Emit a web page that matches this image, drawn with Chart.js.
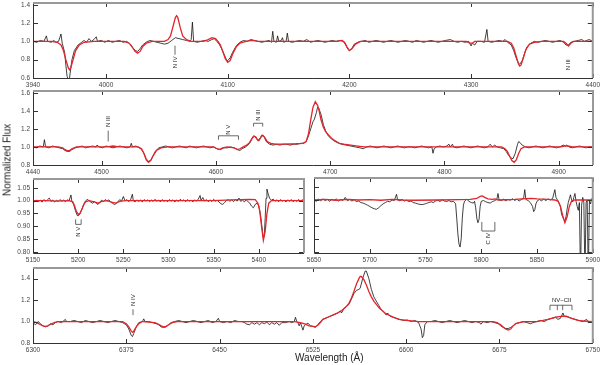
<!DOCTYPE html>
<html>
<head>
<meta charset="utf-8">
<script src="https://cdn.jsdelivr.net/npm/chart.js@4.4.1/dist/chart.umd.min.js"></script>
<style>
  body { margin: 0; background: #fff; width: 600px; height: 365px; position: relative; overflow: hidden; font-family: "Liberation Sans", Arial, sans-serif; }
  canvas { position: absolute; }
  .ttl { position: absolute; font-size: 10px; color: #222; white-space: nowrap; }
</style>
</head>
<body>
<canvas id="p1"></canvas>
<canvas id="p2"></canvas>
<canvas id="p3"></canvas>
<canvas id="p4"></canvas>
<canvas id="p5"></canvas>
<div class="ttl" style="left:295px; top:352px;">Wavelength (&Aring;)</div>
<div class="ttl" style="left:7px; top:160px; transform: translate(-50%,-50%) rotate(-90deg);">Normalized Flux</div>
<script>
// ---- panel 1 : 3940-4400 A ----
const p1XTicks = [3940, 4000, 4100, 4200, 4300, 4400];
const p1YTicks = [0.6, 0.8, 1.0, 1.2, 1.4];
const p1Observed = [
  [3940,1.00],[3943,0.99],[3946,1.01],[3949,1.00],[3951,1.06],[3952,1.00],[3955,0.99],[3957,1.01],[3959,0.99],[3961,1.00],
  [3963,1.08],[3964,0.98],[3966,0.88],[3967,0.74],[3968,0.62],[3969,0.58],[3970,0.60],[3971,0.70],[3972,0.80],[3974,0.90],
  [3977,0.96],[3980,0.99],[3982,1.01],[3984,0.99],[3986,1.03],[3988,1.00],[3990,1.02],[3992,1.05],[3993,1.00],[3996,1.01],
  [3999,0.99],[4002,1.01],[4005,0.99],[4008,1.00],[4011,1.01],[4014,0.99],[4017,1.00],[4020,0.97],[4022,0.93],[4024,0.90],
  [4026,0.89],[4028,0.92],[4030,0.96],[4033,0.99],[4036,1.01],[4039,1.00],[4042,0.99],[4045,0.98],[4048,0.97],[4051,0.98],
  [4054,1.01],[4057,1.04],[4060,1.03],[4063,1.02],[4066,1.01],[4069,1.00],[4070,1.02],[4071,1.21],[4072,1.00],[4075,0.99],
  [4078,1.00],[4081,1.01],[4084,1.00],[4087,1.02],[4089,1.03],[4091,1.00],[4093,0.97],[4095,0.92],[4097,0.86],[4099,0.80],
  [4100,0.79],[4102,0.82],[4104,0.88],[4107,0.95],[4110,0.99],[4113,1.01],[4116,1.00],[4119,1.02],[4122,1.01],[4125,1.00],
  [4128,0.99],[4131,1.00],[4134,1.01],[4136,0.99],[4137,1.11],[4138,1.00],[4140,0.99],[4141,1.06],[4142,1.00],[4144,1.01],
  [4145,1.04],[4146,0.99],[4148,1.00],[4149,1.09],[4150,1.00],[4153,0.99],[4156,1.00],[4159,1.01],[4162,1.00],[4165,1.02],
  [4168,0.99],[4171,1.00],[4174,1.01],[4177,1.00],[4180,0.99],[4183,1.00],[4186,1.01],[4189,1.00],[4192,1.01],[4195,1.00],
  [4197,0.96],[4199,0.91],[4200,0.90],[4202,0.92],[4204,0.97],[4207,0.99],[4210,1.00],[4213,1.01],[4216,0.99],[4219,1.00],
  [4222,1.01],[4225,1.00],[4228,0.99],[4231,1.00],[4234,1.01],[4237,1.00],[4240,0.99],[4243,1.00],[4246,1.01],[4249,1.00],
  [4252,0.99],[4255,1.01],[4258,1.00],[4261,0.99],[4264,1.00],[4267,1.01],[4270,1.00],[4273,0.99],[4276,1.00],[4279,1.01],
  [4283,1.02],[4286,1.00],[4289,0.99],[4292,1.00],[4295,0.99],[4298,1.00],[4300,0.95],[4301,0.98],[4303,0.96],[4305,1.00],
  [4308,1.00],[4311,0.99],[4313,1.13],[4314,1.00],[4317,0.99],[4320,1.00],[4323,1.01],[4326,1.00],[4328,1.02],[4330,0.99],
  [4333,0.96],[4335,0.90],[4337,0.82],[4339,0.76],[4340,0.75],[4342,0.79],[4344,0.87],[4346,0.94],[4349,0.98],[4352,1.00],
  [4355,0.99],[4358,1.00],[4361,1.01],[4364,1.00],[4367,0.99],[4370,1.00],[4373,1.01],[4376,0.99],[4378,0.96],[4380,0.96],
  [4382,0.99],[4385,1.00],[4388,1.01],[4391,1.02],[4393,1.00],[4395,1.01],[4397,1.02],[4400,1.00]
];
const p1Model = [
  [3940,1.00],[3955,1.00],[3960,0.99],[3963,0.96],[3965,0.90],[3967,0.80],[3969,0.71],[3970,0.69],[3971,0.71],[3973,0.80],
  [3975,0.90],[3978,0.96],[3982,0.99],[3990,1.00],[4015,1.00],[4019,0.98],[4022,0.93],[4024,0.89],[4026,0.87],[4028,0.89],
  [4030,0.94],[4033,0.98],[4038,1.00],[4048,1.00],[4051,1.02],[4053,1.06],[4055,1.16],[4057,1.26],[4058,1.28],[4059,1.26],
  [4061,1.15],[4063,1.06],[4066,1.02],[4070,1.00],[4080,1.00],[4084,1.02],[4087,1.04],[4090,1.03],[4092,1.00],[4094,0.96],
  [4096,0.89],[4098,0.81],[4100,0.77],[4102,0.79],[4104,0.86],[4107,0.94],[4110,0.98],[4115,1.00],[4120,1.01],[4125,1.00],
  [4190,1.00],[4194,1.01],[4196,0.99],[4198,0.94],[4200,0.90],[4202,0.92],[4205,0.97],[4209,1.00],[4296,1.00],[4299,0.98],
  [4301,0.98],[4303,1.00],[4330,1.00],[4333,0.98],[4335,0.93],[4337,0.84],[4339,0.75],[4340,0.73],[4341,0.74],[4343,0.82],
  [4345,0.91],[4348,0.97],[4352,0.99],[4358,1.00],[4376,1.00],[4378,0.98],[4380,0.95],[4382,0.98],[4384,1.00],[4400,1.00]
];

// ---- panel 2 : 4440-4930 A ----
const p2XTicks = [4440, 4500, 4600, 4700, 4800, 4900];
const p2YTicks = [0.8, 1.0, 1.2, 1.4, 1.6];
const p2Observed = [
  [4440,1.00],[4443,0.99],[4446,1.01],[4449,1.00],[4450,1.08],[4451,1.00],[4454,0.99],[4457,1.01],[4460,1.00],[4463,0.99],
  [4466,0.98],[4468,0.96],[4470,0.95],[4472,0.95],[4474,0.97],[4477,0.99],[4480,1.00],[4483,1.01],[4486,0.99],[4489,1.00],
  [4492,1.01],[4495,1.00],[4496,1.02],[4498,1.00],[4501,0.99],[4504,1.01],[4507,1.00],[4510,0.99],[4513,1.00],[4516,1.01],
  [4519,1.00],[4522,0.99],[4525,1.00],[4526,1.04],[4527,1.00],[4530,1.01],[4533,0.99],[4535,0.97],[4537,0.93],[4539,0.87],
  [4541,0.84],[4543,0.85],[4545,0.90],[4547,0.95],[4550,0.99],[4553,1.00],[4556,1.01],[4559,1.00],[4562,0.99],[4565,1.00],
  [4568,1.01],[4571,1.00],[4574,0.99],[4577,1.01],[4580,1.00],[4583,0.99],[4586,1.00],[4589,1.01],[4592,1.00],[4595,0.99],
  [4598,1.00],[4601,0.98],[4604,0.97],[4607,0.99],[4610,0.99],[4613,1.00],[4616,0.99],[4619,0.97],[4621,0.96],[4623,0.98],
  [4626,1.00],[4628,1.02],[4630,1.05],[4632,1.10],[4634,1.12],[4636,1.08],[4638,1.07],[4640,1.13],[4642,1.12],[4644,1.06],
  [4647,1.03],[4650,1.02],[4653,1.03],[4656,1.02],[4659,1.03],[4662,1.03],[4665,1.02],[4668,1.03],[4671,1.03],[4674,1.04],
  [4677,1.04],[4679,1.06],[4681,1.12],[4683,1.20],[4685,1.28],[4686,1.30],[4688,1.38],[4689,1.44],[4690,1.43],[4692,1.36],
  [4694,1.25],[4696,1.18],[4698,1.13],[4700,1.10],[4703,1.07],[4706,1.05],[4710,1.03],[4714,1.02],[4718,1.01],[4722,1.00],
  [4726,0.99],[4729,0.98],[4732,1.00],[4735,1.01],[4738,1.00],[4741,0.99],[4744,1.00],[4747,1.01],[4750,1.00],[4753,0.99],
  [4756,1.00],[4759,1.01],[4762,1.00],[4765,0.99],[4768,1.00],[4771,1.00],[4774,0.99],[4777,1.00],[4780,1.01],[4783,1.00],
  [4786,0.99],[4789,1.00],[4790,0.93],[4791,0.98],[4793,1.00],[4796,1.01],[4799,1.00],[4802,1.01],[4804,1.03],[4805,1.00],
  [4807,1.03],[4808,1.00],[4811,0.99],[4814,1.00],[4817,1.01],[4820,1.00],[4823,0.99],[4826,1.00],[4829,1.01],[4832,1.00],
  [4835,0.99],[4838,1.00],[4840,1.03],[4842,1.00],[4844,1.02],[4846,1.00],[4849,0.99],[4852,0.98],[4854,0.95],[4856,0.91],
  [4858,0.88],[4860,0.87],[4862,0.93],[4864,1.03],[4865,1.06],[4866,1.05],[4868,1.02],[4871,1.00],[4874,0.99],[4877,1.00],
  [4880,1.01],[4883,1.00],[4886,0.99],[4889,1.00],[4892,1.01],[4895,1.00],[4898,0.99],[4901,1.00],[4904,1.02],[4906,1.01],
  [4907,1.02],[4909,1.00],[4912,0.99],[4915,1.00],[4918,1.01],[4921,1.00],[4924,0.99],[4927,1.00],[4930,1.00]
];
const p2Model = [
  [4440,1.00],[4462,1.00],[4466,0.99],[4468,0.97],[4470,0.96],[4472,0.96],[4474,0.98],[4478,1.00],[4505,1.00],[4510,1.01],
  [4515,1.00],[4532,1.00],[4535,0.98],[4537,0.93],[4539,0.86],[4541,0.83],[4543,0.85],[4545,0.90],[4548,0.96],[4552,0.99],
  [4558,1.00],[4598,1.00],[4601,0.98],[4603,0.97],[4606,0.99],[4610,1.00],[4616,0.99],[4619,0.97],[4621,0.98],[4624,1.00],
  [4627,1.02],[4629,1.04],[4631,1.08],[4633,1.12],[4635,1.11],[4637,1.07],[4639,1.10],[4641,1.13],[4643,1.10],[4645,1.06],
  [4648,1.04],[4652,1.03],[4660,1.03],[4670,1.035],[4676,1.04],[4679,1.06],[4681,1.14],[4683,1.30],[4685,1.44],[4687,1.50],
  [4689,1.46],[4690,1.42],[4692,1.30],[4694,1.22],[4696,1.17],[4698,1.14],[4701,1.10],[4703,1.08],[4708,1.04],[4712,1.03],
  [4718,1.02],[4724,1.01],[4730,1.00],[4850,1.00],[4853,0.98],[4855,0.95],[4857,0.90],[4859,0.85],[4861,0.83],[4863,0.86],
  [4865,0.93],[4867,0.98],[4870,1.00],[4902,1.00],[4905,1.01],[4908,1.01],[4912,1.00],[4930,1.00]
];

// ---- panel 3 : 5150-5450 A ----
const p3XTicks = [5150, 5200, 5250, 5300, 5350, 5400];
const p3YTicks = [0.80, 0.85, 0.90, 0.95, 1.00, 1.05];
const p3Observed = [
  [5150,1.000],[5152,0.995],[5154,1.003],[5156,0.996],[5158,1.002],[5160,0.994],[5162,1.004],[5164,0.998],[5166,1.003],[5168,1.010],
  [5170,0.997],[5172,1.002],[5174,0.995],[5176,1.001],[5178,0.997],[5180,1.004],[5182,0.998],[5184,1.002],[5186,0.996],[5188,1.003],
  [5190,1.000],[5192,1.022],[5193,0.998],[5195,0.985],[5197,0.960],[5199,0.942],[5200,0.940],[5202,0.948],[5204,0.965],[5206,0.985],
  [5208,0.997],[5210,1.005],[5212,1.000],[5214,0.994],[5216,0.990],[5218,0.996],[5220,0.990],[5222,0.985],[5224,0.993],[5226,1.002],
  [5228,0.996],[5230,1.004],[5232,0.998],[5234,1.003],[5236,0.994],[5238,0.990],[5240,0.985],[5242,0.988],[5244,0.996],[5246,1.004],
  [5248,0.998],[5250,1.016],[5252,0.999],[5254,1.004],[5256,0.996],[5258,1.003],[5260,1.025],[5261,1.000],[5263,0.995],[5265,1.003],
  [5267,0.997],[5269,1.002],[5271,0.995],[5273,1.004],[5275,0.998],[5277,1.003],[5279,0.996],[5281,1.002],[5283,0.997],[5285,1.005],
  [5287,0.998],[5289,1.002],[5291,0.995],[5293,1.004],[5295,0.997],[5297,1.001],[5299,0.996],[5301,1.004],[5303,0.998],[5305,1.003],
  [5307,0.995],[5309,1.002],[5311,0.997],[5313,1.005],[5315,0.999],[5317,1.003],[5319,0.996],[5321,1.004],[5323,0.998],[5325,1.002],
  [5327,0.995],[5329,1.003],[5331,0.998],[5333,1.006],[5335,1.020],[5336,1.000],[5338,1.012],[5340,0.998],[5342,1.004],[5344,0.996],
  [5346,1.003],[5348,0.997],[5350,1.005],[5352,0.998],[5354,1.002],[5356,0.994],[5358,0.988],[5360,0.985],[5362,0.992],[5364,1.000],
  [5366,1.004],[5368,0.997],[5370,1.003],[5372,0.996],[5374,1.004],[5376,0.998],[5378,1.010],[5380,0.997],[5382,1.002],[5384,0.995],
  [5386,1.003],[5388,0.996],[5390,0.990],[5392,0.978],[5394,0.972],[5396,0.985],[5398,0.990],[5400,0.980],[5402,0.940],[5404,0.880],
  [5405,0.855],[5406,0.860],[5407,0.930],[5408,1.010],[5409,1.045],[5410,1.030],[5412,1.008],[5414,1.002],[5416,1.006],[5418,0.998],
  [5420,1.003],[5422,0.996],[5424,1.004],[5426,0.998],[5428,1.002],[5430,0.995],[5432,1.003],[5434,0.998],[5436,1.004],[5438,0.996],
  [5440,1.002],[5442,0.997],[5444,1.004],[5446,0.998],[5448,1.003],[5450,1.000]
];
const p3Model = [
  [5150,1.000],[5165,1.000],[5175,0.998],[5190,1.000],[5194,0.995],[5196,0.980],[5198,0.958],[5200,0.946],[5202,0.950],[5204,0.965],
  [5206,0.982],[5208,0.995],[5212,1.000],[5218,0.995],[5222,0.990],[5226,0.997],[5232,1.000],[5238,0.993],[5242,0.990],[5246,0.997],
  [5252,1.000],[5300,1.000],[5350,1.000],[5370,1.003],[5390,1.005],[5396,1.004],[5399,0.990],[5401,0.960],[5403,0.900],[5405,0.845],
  [5407,0.880],[5409,0.950],[5411,0.990],[5414,1.000],[5450,1.000]
];

// ---- panel 4 : 5650-5900 A ----
const p4XTicks = [5650, 5700, 5750, 5800, 5850, 5900];
const p4YTicks = [0.80, 0.85, 0.90, 0.95, 1.00, 1.05];
const p4Observed = [
  [5650,1.000],[5652,0.995],[5654,1.003],[5656,0.997],[5658,1.004],[5660,0.998],[5662,1.002],[5664,0.995],[5666,1.003],[5668,0.999],
  [5670,1.004],[5672,0.996],[5674,1.002],[5676,0.998],[5678,1.010],[5680,0.997],[5682,1.002],[5684,0.996],[5686,1.001],[5688,0.994],
  [5690,0.996],[5692,0.990],[5694,0.988],[5696,0.984],[5698,0.980],[5700,0.975],[5702,0.970],[5704,0.966],[5706,0.964],[5708,0.970],
  [5710,0.978],[5712,0.985],[5714,0.990],[5716,0.995],[5718,0.993],[5720,1.000],[5722,0.998],[5724,1.022],[5725,1.000],[5727,0.997],
  [5729,1.002],[5731,0.996],[5733,0.999],[5735,0.994],[5737,0.996],[5739,0.990],[5741,0.988],[5743,0.985],[5745,0.983],[5747,0.982],
  [5749,0.984],[5751,0.987],[5753,0.990],[5755,0.993],[5757,0.990],[5759,0.996],[5761,0.999],[5763,0.994],[5765,1.001],[5767,0.996],
  [5769,0.994],[5771,0.998],[5773,0.993],[5775,0.995],[5777,0.985],[5778,0.930],[5779,0.870],[5780,0.830],[5781,0.818],[5782,0.850],
  [5783,0.930],[5784,0.980],[5785,0.995],[5787,1.003],[5789,0.995],[5791,0.990],[5793,0.988],[5794,0.995],[5795,0.970],[5796,0.930],
  [5797,0.912],[5798,0.925],[5799,0.975],[5800,0.995],[5802,0.998],[5804,0.993],[5806,0.990],[5808,0.988],[5810,0.994],[5812,0.997],
  [5814,1.003],[5815,1.025],[5816,1.000],[5818,0.998],[5820,1.003],[5822,0.997],[5824,1.002],[5826,0.999],[5828,1.005],[5830,0.998],
  [5832,1.003],[5834,0.996],[5836,1.002],[5838,1.006],[5839,1.040],[5840,1.002],[5842,0.998],[5844,0.990],[5846,0.975],[5847,0.955],
  [5848,0.962],[5849,0.985],[5850,0.995],[5852,1.002],[5854,0.997],[5856,1.003],[5858,0.998],[5860,1.004],[5862,1.000],[5864,1.006],
  [5866,1.040],[5867,1.010],[5869,0.995],[5871,0.975],[5872,0.945],[5874,0.925],[5875,0.920],[5876,0.935],[5877,0.965],[5878,0.990],
  [5879,1.005],[5880,1.020],[5881,1.000],[5882,0.992],[5883,1.010],[5884,1.025],[5885,0.995],[5886,0.975],[5887,0.960],[5888,0.990],
  [5889,0.700],[5890,0.980],[5891,1.010],[5892,0.990],[5893,0.700],[5894,0.990],[5895,1.000],[5896,0.700],[5897,0.995],[5898,0.985],
  [5899,1.005],[5900,1.000]
];
const p4Model = [
  [5650,1.000],[5660,1.002],[5670,0.999],[5680,1.002],[5690,1.000],[5700,1.001],[5710,0.999],[5720,1.002],[5730,1.000],[5740,0.999],
  [5760,1.000],[5780,1.001],[5790,1.002],[5796,1.006],[5799,1.014],[5801,1.016],[5803,1.010],[5806,1.004],[5810,1.002],[5812,1.004],
  [5815,1.000],[5830,1.002],[5840,1.005],[5845,1.006],[5850,1.004],[5860,1.002],[5866,1.000],[5869,0.995],[5871,0.975],[5873,0.940],
  [5875,0.912],[5877,0.935],[5879,0.975],[5881,0.996],[5884,1.000],[5900,1.000]
];

// ---- panel 5 : 6300-6750 A ----
const p5XTicks = [6300, 6375, 6450, 6525, 6600, 6675, 6750];
const p5YTicks = [0.8, 0.9, 1.0, 1.1, 1.2, 1.3, 1.4, 1.5];
const p5Observed = [
  [6300,0.99],[6302,0.97],[6304,1.00],[6306,0.98],[6308,0.96],[6310,0.95],[6312,0.96],[6314,0.98],[6316,0.97],[6318,0.99],
  [6320,1.00],[6323,0.99],[6326,1.02],[6327,1.00],[6330,1.00],[6333,1.01],[6336,1.00],[6339,0.99],[6342,1.01],[6345,1.00],
  [6348,0.99],[6351,1.00],[6354,1.01],[6357,1.00],[6360,0.99],[6363,1.00],[6366,1.01],[6369,1.00],[6372,0.99],[6375,0.97],
  [6377,0.93],[6379,0.87],[6380,0.86],[6381,0.89],[6383,0.95],[6385,0.99],[6388,1.00],[6389,1.025],[6390,1.00],[6393,1.00],
  [6396,0.99],[6399,0.98],[6401,0.97],[6403,0.95],[6405,0.945],[6407,0.95],[6409,0.97],[6411,0.99],[6414,1.00],[6417,1.01],
  [6420,1.00],[6423,0.99],[6426,1.00],[6429,1.01],[6432,1.00],[6435,0.99],[6438,1.00],[6441,1.01],[6444,0.99],[6447,1.00],
  [6449,1.03],[6450,1.00],[6453,0.99],[6456,1.00],[6459,0.99],[6462,1.01],[6465,1.00],[6468,1.00],[6470,0.99],[6472,0.975],
  [6474,0.97],[6476,0.99],[6478,0.975],[6480,0.99],[6482,0.97],[6484,0.99],[6486,0.98],[6488,0.995],[6490,0.97],[6492,0.99],
  [6494,0.975],[6496,0.99],[6498,0.965],[6500,0.99],[6503,0.99],[6506,1.00],[6508,0.99],[6510,1.00],[6511,1.04],[6512,1.00],
  [6513,0.99],[6514,0.96],[6515,0.99],[6517,0.92],[6518,0.96],[6519,0.97],[6521,0.985],[6523,0.96],[6525,0.955],[6527,0.945],
  [6529,0.97],[6531,1.00],[6533,1.02],[6535,1.03],[6537,1.04],[6539,1.05],[6541,1.06],[6543,1.07],[6545,1.08],[6547,1.10],
  [6548,1.08],[6550,1.12],[6552,1.14],[6554,1.16],[6556,1.21],[6558,1.26],[6560,1.29],[6562,1.30],[6563,1.31],[6565,1.40],
  [6567,1.47],[6568,1.47],[6570,1.40],[6572,1.30],[6574,1.23],[6576,1.19],[6578,1.15],[6580,1.11],[6582,1.09],[6584,1.06],
  [6585,1.08],[6587,1.05],[6589,1.04],[6592,1.03],[6595,1.02],[6598,1.01],[6601,1.015],[6604,1.00],[6607,1.01],[6610,0.99],
  [6612,0.93],[6613,0.85],[6614,0.87],[6615,0.97],[6617,1.00],[6620,1.00],[6623,1.01],[6626,1.00],[6629,0.99],[6632,1.00],
  [6635,1.01],[6638,1.00],[6641,0.99],[6644,1.00],[6647,1.01],[6650,1.00],[6653,0.99],[6656,1.00],[6659,0.99],[6660,0.975],
  [6662,1.00],[6665,0.99],[6668,1.00],[6671,0.99],[6674,0.98],[6676,0.96],[6678,0.945],[6680,0.935],[6682,0.935],[6684,0.945],
  [6686,0.96],[6688,0.98],[6691,0.99],[6694,1.00],[6697,0.99],[6700,0.98],[6702,0.99],[6705,1.00],[6708,1.01],[6711,1.00],
  [6714,1.02],[6717,1.03],[6720,1.04],[6722,1.02],[6724,1.03],[6726,1.08],[6727,1.05],[6729,1.05],[6731,1.04],[6733,1.03],
  [6736,1.02],[6739,1.01],[6742,1.00],[6745,1.02],[6746,1.00],[6750,1.00]
];
const p5Model = [
  [6300,1.00],[6303,0.99],[6306,0.97],[6308,0.96],[6310,0.955],[6312,0.96],[6314,0.975],[6317,0.99],[6320,1.00],[6372,1.00],
  [6375,0.98],[6377,0.95],[6379,0.91],[6380,0.90],[6381,0.91],[6383,0.95],[6385,0.98],[6388,1.00],[6398,0.99],[6401,0.975],
  [6403,0.96],[6405,0.95],[6407,0.955],[6409,0.97],[6412,0.99],[6416,1.00],[6510,1.00],[6515,0.99],[6519,0.975],[6522,0.96],
  [6525,0.955],[6527,0.952],[6529,0.965],[6531,0.99],[6533,1.02],[6537,1.04],[6541,1.06],[6545,1.08],[6548,1.10],[6551,1.13],
  [6554,1.17],[6556,1.22],[6558,1.28],[6560,1.35],[6562,1.40],[6563,1.42],[6564,1.42],[6566,1.39],[6568,1.34],[6570,1.28],
  [6572,1.23],[6574,1.19],[6576,1.16],[6578,1.13],[6580,1.11],[6583,1.08],[6586,1.06],[6590,1.04],[6594,1.02],[6600,1.01],
  [6610,1.00],[6670,1.00],[6673,0.99],[6676,0.97],[6678,0.95],[6680,0.93],[6682,0.92],[6684,0.93],[6686,0.96],[6688,0.98],
  [6691,0.99],[6695,1.00],[6705,1.00],[6710,1.01],[6714,1.02],[6717,1.03],[6720,1.04],[6723,1.045],[6726,1.05],[6729,1.045],
  [6733,1.03],[6738,1.01],[6742,1.005],[6750,1.00]
];

// line identifications, in data coordinates (wavelength, flux)
const p1Labels = [
  { text: 'N IV', x: 4056.7, y: 0.77, rot: true, line: [0.953, 0.854] },
  { text: 'N III', x: 4379.6, y: 0.745, rot: true }
];
const p2Labels = [
  { text: 'N III', x: 4505.8, y: 1.28, rot: true, line: [1.18, 1.06] },
  { text: 'N V', x: 4611, y: 1.19, rot: true, bracket: [[4602.3, 4619.8], 1.123, 1.08] },
  { text: 'N III', x: 4637, y: 1.35, rot: true, bracket: [[4633, 4641], 1.262, 1.225] }
];
const p3Labels = [
  { text: 'N V', x: 5200.3, y: 0.878, rot: true, bracket: [[5197.2, 5203.3], 0.907, 0.927] }
];
const p4Labels = [
  { text: 'C IV', x: 5806.5, y: 0.85, rot: true, bracket: [[5800.5, 5812.2], 0.88, 0.915] }
];
const p5Labels = [
  { text: 'N IV', x: 6380.4, y: 1.20, rot: true, line: [1.115, 1.06] },
  { text: 'NV\u2212CII', x: 6725, y: 1.198, rot: false, bracket: [[6715.6, 6721.5, 6725.8, 6733.3], 1.152, 1.106] }
];

Chart.defaults.font.family = '"Liberation Sans", Arial, sans-serif';

// frame, inward ticks and line ids
function framePlugin(notes) {
  return {
    id: 'frame',
    afterDatasetsDraw(chart) {
      const { ctx, chartArea: a, scales: { x, y } } = chart;
      ctx.save();
      ctx.strokeStyle = '#333';
      ctx.lineWidth = 1;
      ctx.beginPath();
      x.ticks.forEach(t => {
        const px = Math.round(x.getPixelForValue(t.value)) + 0.5;
        ctx.moveTo(px, a.bottom); ctx.lineTo(px, a.bottom - 4);
        ctx.moveTo(px, a.top); ctx.lineTo(px, a.top + 4);
      });
      y.ticks.forEach(t => {
        const py = Math.round(y.getPixelForValue(t.value)) + 0.5;
        ctx.moveTo(a.left, py); ctx.lineTo(a.left + 5, py);
        ctx.moveTo(a.right, py); ctx.lineTo(a.right - 5, py);
      });
      ctx.stroke();

      // frame: left/bottom crisp, top/right softer
      ctx.strokeStyle = '#333';
      ctx.beginPath();
      ctx.moveTo(a.left + 0.5, a.top); ctx.lineTo(a.left + 0.5, a.bottom + 0.5);
      ctx.lineTo(a.right, a.bottom + 0.5);
      ctx.stroke();
      ctx.strokeStyle = '#999';
      ctx.lineWidth = 2;
      ctx.beginPath();
      ctx.moveTo(a.left, a.top); ctx.lineTo(a.right, a.top); ctx.lineTo(a.right, a.bottom);
      ctx.stroke();

      // line identifications
      ctx.strokeStyle = '#444';
      ctx.fillStyle = '#222';
      ctx.lineWidth = 0.8;
      ctx.font = '6px "Liberation Sans", Arial, sans-serif';
      ctx.textAlign = 'center';
      ctx.textBaseline = 'middle';
      notes.forEach(n => {
        const px = x.getPixelForValue(n.x), py = y.getPixelForValue(n.y);
        if (n.line) {
          ctx.beginPath();
          ctx.moveTo(px, y.getPixelForValue(n.line[0]));
          ctx.lineTo(px, y.getPixelForValue(n.line[1]));
          ctx.stroke();
        }
        if (n.bracket) {
          const [xs, yb, ye] = n.bracket;
          const by = y.getPixelForValue(yb), ey = y.getPixelForValue(ye);
          ctx.beginPath();
          ctx.moveTo(x.getPixelForValue(xs[0]), by);
          ctx.lineTo(x.getPixelForValue(xs[xs.length - 1]), by);
          xs.forEach(v => {
            ctx.moveTo(x.getPixelForValue(v), by);
            ctx.lineTo(x.getPixelForValue(v), ey);
          });
          ctx.stroke();
        }
        ctx.save();
        ctx.translate(px, py);
        if (n.rot) ctx.rotate(-Math.PI / 2);
        ctx.fillText(n.text, 0, 0);
        ctx.restore();
      });
      ctx.restore();
    }
  };
}

function drawPanel(id, box, xr, yr, xTicks, yTicks, yDec, showY, observed, model, notes) {
  const cv = document.getElementById(id);
  const padL = 4, padR = 10, padT = 6, padB = 2, yW = 30, xH = 14;
  const w = box.R - box.L + yW + padL + padR;
  const h = box.B - box.T + padT + xH + padB;
  cv.width = w; cv.height = h;
  cv.style.left = (box.L - yW - padL) + 'px';
  cv.style.top = (box.T - padT) + 'px';
  cv.style.width = w + 'px'; cv.style.height = h + 'px';

  const tickFont = { size: 6.5 };
  new Chart(cv, {
    type: 'line',
    data: {
      datasets: [
        { data: model.map(p => ({ x: p[0], y: p[1] })), borderColor: '#e3242b', borderWidth: 1.3, pointRadius: 0, order: 0 },
        { data: observed.map(p => ({ x: p[0], y: p[1] })), borderColor: '#111', borderWidth: 0.8, pointRadius: 0, order: 1 }
      ]
    },
    options: {
      responsive: false,
      animation: false,
      events: [],
      layout: { padding: { left: padL, right: padR, top: padT, bottom: padB }, autoPadding: false },
      plugins: { legend: { display: false }, tooltip: { enabled: false } },
      scales: {
        x: {
          type: 'linear', min: xr[0], max: xr[1],
          afterBuildTicks: s => { s.ticks = xTicks.map(v => ({ value: v })); },
          afterFit: s => { s.height = xH; },
          grid: { display: false, drawTicks: false },
          border: { display: false },
          ticks: { autoSkip: false, maxRotation: 0, padding: 3, color: '#444', font: tickFont, callback: v => String(v) }
        },
        y: {
          type: 'linear', min: yr[0], max: yr[1],
          afterBuildTicks: s => { s.ticks = yTicks.map(v => ({ value: v })); },
          afterFit: s => { s.width = yW; },
          grid: { display: false, drawTicks: false },
          border: { display: false },
          ticks: { display: showY, padding: 3, color: '#444', font: tickFont, callback: v => Number(v).toFixed(yDec) }
        }
      }
    },
    plugins: [framePlugin(notes)]
  });
}

drawPanel('p1', { L: 33, R: 593, T: 2, B: 78 }, [3940, 4400], [0.6, 1.42], p1XTicks, p1YTicks, 1, true, p1Observed, p1Model, p1Labels);
drawPanel('p2', { L: 33, R: 593, T: 90, B: 165 }, [4440, 4930], [0.8, 1.62], p2XTicks, p2YTicks, 1, true, p2Observed, p2Model, p2Labels);
drawPanel('p3', { L: 33, R: 304, T: 178, B: 253 }, [5150, 5450], [0.795, 1.085], p3XTicks, p3YTicks, 2, true, p3Observed, p3Model, p3Labels);
drawPanel('p4', { L: 314, R: 593, T: 178, B: 253 }, [5650, 5900], [0.795, 1.085], p4XTicks, p4YTicks, 2, false, p4Observed, p4Model, p4Labels);
drawPanel('p5', { L: 33, R: 593, T: 267, B: 343 }, [6300, 6750], [0.8, 1.5], p5XTicks, p5YTicks, 1, true, p5Observed, p5Model, p5Labels);
</script>
</body>
</html>
